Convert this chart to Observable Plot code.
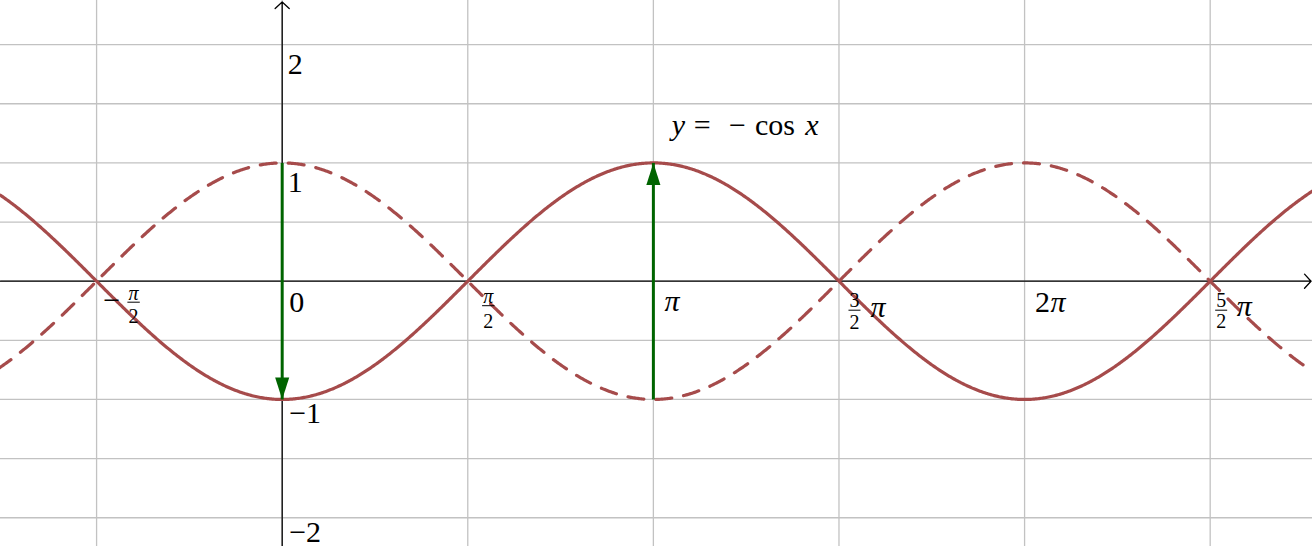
<!DOCTYPE html>
<html><head><meta charset="utf-8">
<script src="https://cdn.jsdelivr.net/npm/d3@7"></script>
<script src="https://cdn.jsdelivr.net/npm/@observablehq/plot@0.6"></script>
<style>html,body{margin:0;padding:0;background:#fff;overflow:hidden}#chart svg{display:block}</style>
</head><body><div id="chart"></div>
<script>
// ---- data ----
const HALF_PI = Math.PI / 2;
const xDomain = [-2.384, 8.720];
const yDomain = [-2.243, 2.373];
const xGridMultiples = [-1, 0, 1, 2, 3, 4, 5];          // multiples of π/2
const yGridValues = [-2, -1.5, -1, -0.5, 0, 0.5, 1, 1.5, 2];
const yLabelsPositive = [{y: 2, label: "2"}, {y: 1, label: "1"}];
const yLabelsNegative = [{y: -1, label: "−1"}, {y: -2, label: "−2"}];
const sampleStep = 0.01;
const solidCurve = x => -Math.cos(x);   // y = −cos x
const dashedCurve = x => Math.cos(x);   // y = cos x
const arrowDown = [{x: 0, y1: 1, y2: -1}];
const arrowUp = [{x: Math.PI, y1: -1, y2: 1}];
const titleAnchor = [{x: Math.PI, y: 1.25}];

// ---- derived tables ----
const xGrid = xGridMultiples.map(k => k * HALF_PI);
const xsAll = d3.range(xDomain[0], xDomain[1] + sampleStep, sampleStep);
const solidPts = xsAll.map(x => ({x, y: solidCurve(x)}));
const dashRight = d3.range(0, xDomain[1] + sampleStep, sampleStep).map(x => ({x, y: dashedCurve(x)}));
const dashLeft = d3.range(0, xDomain[0] - sampleStep, -sampleStep).map(x => ({x, y: dashedCurve(x)}));
const at = k => [{x: k * HALF_PI, y: 0}];

// ---- styles ----
const FONT = "'Liberation Serif', 'DejaVu Serif', serif";
const MAIN = 30, SCRIPT = 20;
const RED = "#a64b4b", GREEN = "#006400", GRID = "#c2c2c2";

const arrowHead = {draw(ctx, size) {
  const r = Math.sqrt(size / Math.PI);
  ctx.moveTo(0, 0); ctx.lineTo(-0.32 * r, r); ctx.lineTo(0.32 * r, r); ctx.closePath();
}};
const hBar = {draw(ctx, size) {
  const r = Math.sqrt(size / Math.PI);
  ctx.moveTo(-r, 0); ctx.lineTo(r, 0);
}};

const txt = (data, o) => Plot.text(data, Object.assign({x: "x", y: "y", fontFamily: FONT, lineAnchor: "bottom", fill: "black"}, o));
const bar = (data, o) => Plot.dot(data, Object.assign({x: "x", y: "y", symbol: hBar, r: 6.2, stroke: "black", strokeWidth: 1, fill: "none"}, o));

const marks = [
  Plot.ruleX(xGrid, {stroke: GRID, strokeWidth: 1.3}),
  Plot.ruleY(yGridValues, {stroke: GRID, strokeWidth: 1.3}),
  Plot.arrow([{x1: xDomain[0], x2: xDomain[1], y: 0}], {x1: "x1", x2: "x2", y1: "y", y2: "y", stroke: "black", strokeWidth: 1.3, headAngle: 95, headLength: 11, insetEnd: 1.5}),
  Plot.arrow([{y1: yDomain[0], y2: yDomain[1], x: 0}], {x1: "x", x2: "x", y1: "y1", y2: "y2", stroke: "black", strokeWidth: 1.3, headAngle: 95, headLength: 11, insetEnd: 1.5}),
  Plot.line(solidPts, {x: "x", y: "y", stroke: RED, strokeWidth: 3.2}),
  Plot.line(dashRight, {x: "x", y: "y", stroke: RED, strokeWidth: 3.2, strokeDasharray: "16 12", strokeDashoffset: 22}),
  Plot.line(dashLeft, {x: "x", y: "y", stroke: RED, strokeWidth: 3.2, strokeDasharray: "16 12", strokeDashoffset: 22}),
  Plot.link(arrowDown, {x1: "x", x2: "x", y1: "y1", y2: "y2", stroke: GREEN, strokeWidth: 3}),
  Plot.dot(arrowDown, {x: "x", y: "y2", symbol: arrowHead, r: 22, fill: GREEN, stroke: "none", rotate: 180}),
  Plot.link(arrowUp, {x1: "x", x2: "x", y1: "y1", y2: "y2", stroke: GREEN, strokeWidth: 3}),
  Plot.dot(arrowUp, {x: "x", y: "y2", symbol: arrowHead, r: 22, fill: GREEN, stroke: "none"}),
  // y tick labels
  txt(yLabelsPositive, {x: () => 0, text: "label", fontSize: MAIN, textAnchor: "start", dx: 5.5, dy: 29.3}),
  txt(yLabelsNegative, {x: () => 0, text: "label", fontSize: MAIN, textAnchor: "start", dx: 7, dy: 24}),
  // x tick labels
  txt(at(0), {text: () => "0", fontSize: MAIN, textAnchor: "start", dx: 7, dy: 30.5}),
  txt(at(2), {text: () => "π", fontSize: MAIN, fontStyle: "italic", textAnchor: "start", dx: 11, dy: 30}),
  txt(at(4), {text: () => "2", fontSize: MAIN, textAnchor: "start", dx: 10.5, dy: 31}),
  txt(at(4), {text: () => "π", fontSize: MAIN, fontStyle: "italic", textAnchor: "start", dx: 26, dy: 31}),
  // −π/2
  txt(at(-1), {text: () => "−", fontSize: MAIN, textAnchor: "middle", dx: 15, dy: 28.5}),
  txt(at(-1), {text: () => "π", fontSize: SCRIPT, fontStyle: "italic", textAnchor: "middle", dx: 37, dy: 19}),
  bar(at(-1), {dx: 37, dy: 21}),
  txt(at(-1), {text: () => "2", fontSize: SCRIPT, textAnchor: "middle", dx: 37, dy: 41.5}),
  // π/2
  txt(at(1), {text: () => "π", fontSize: SCRIPT, fontStyle: "italic", textAnchor: "middle", dx: 20.5, dy: 22}),
  bar(at(1), {dx: 20.5, dy: 24.5}),
  txt(at(1), {text: () => "2", fontSize: SCRIPT, textAnchor: "middle", dx: 20.5, dy: 46.5}),
  // 3/2 π
  txt(at(3), {text: () => "3", fontSize: SCRIPT, textAnchor: "middle", dx: 15.5, dy: 25.8}),
  bar(at(3), {dx: 15.5, dy: 29, r: 6}),
  txt(at(3), {text: () => "2", fontSize: SCRIPT, textAnchor: "middle", dx: 15.5, dy: 48}),
  txt(at(3), {text: () => "π", fontSize: MAIN, fontStyle: "italic", textAnchor: "middle", dx: 39, dy: 36}),
  // 5/2 π
  txt(at(5), {text: () => "5", fontSize: SCRIPT, textAnchor: "middle", dx: 11, dy: 25.8}),
  bar(at(5), {dx: 11, dy: 29, r: 6}),
  txt(at(5), {text: () => "2", fontSize: SCRIPT, textAnchor: "middle", dx: 11, dy: 47}),
  txt(at(5), {text: () => "π", fontSize: MAIN, fontStyle: "italic", textAnchor: "middle", dx: 34, dy: 34.5}),
  // curve label  y = −cos x
  txt(titleAnchor, {text: () => "y", fontSize: MAIN, fontStyle: "italic", textAnchor: "middle", dx: 25, dy: 2}),
  txt(titleAnchor, {text: () => "=", fontSize: MAIN, textAnchor: "middle", dx: 48.8, dy: 2}),
  txt(titleAnchor, {text: () => "−", fontSize: MAIN, textAnchor: "middle", dx: 84, dy: 2}),
  txt(titleAnchor, {text: () => "cos", fontSize: MAIN, textAnchor: "start", dx: 101.5, dy: 2}),
  txt(titleAnchor, {text: () => "x", fontSize: MAIN, fontStyle: "italic", textAnchor: "middle", dx: 158.5, dy: 2})
];

const chart = Plot.plot({
  width: 1312, height: 546,
  margin: 0,
  x: {domain: xDomain, axis: null},
  y: {domain: yDomain, axis: null},
  style: {background: "white", overflow: "hidden"},
  marks
});
document.getElementById("chart").appendChild(chart);
</script>
</body></html>
